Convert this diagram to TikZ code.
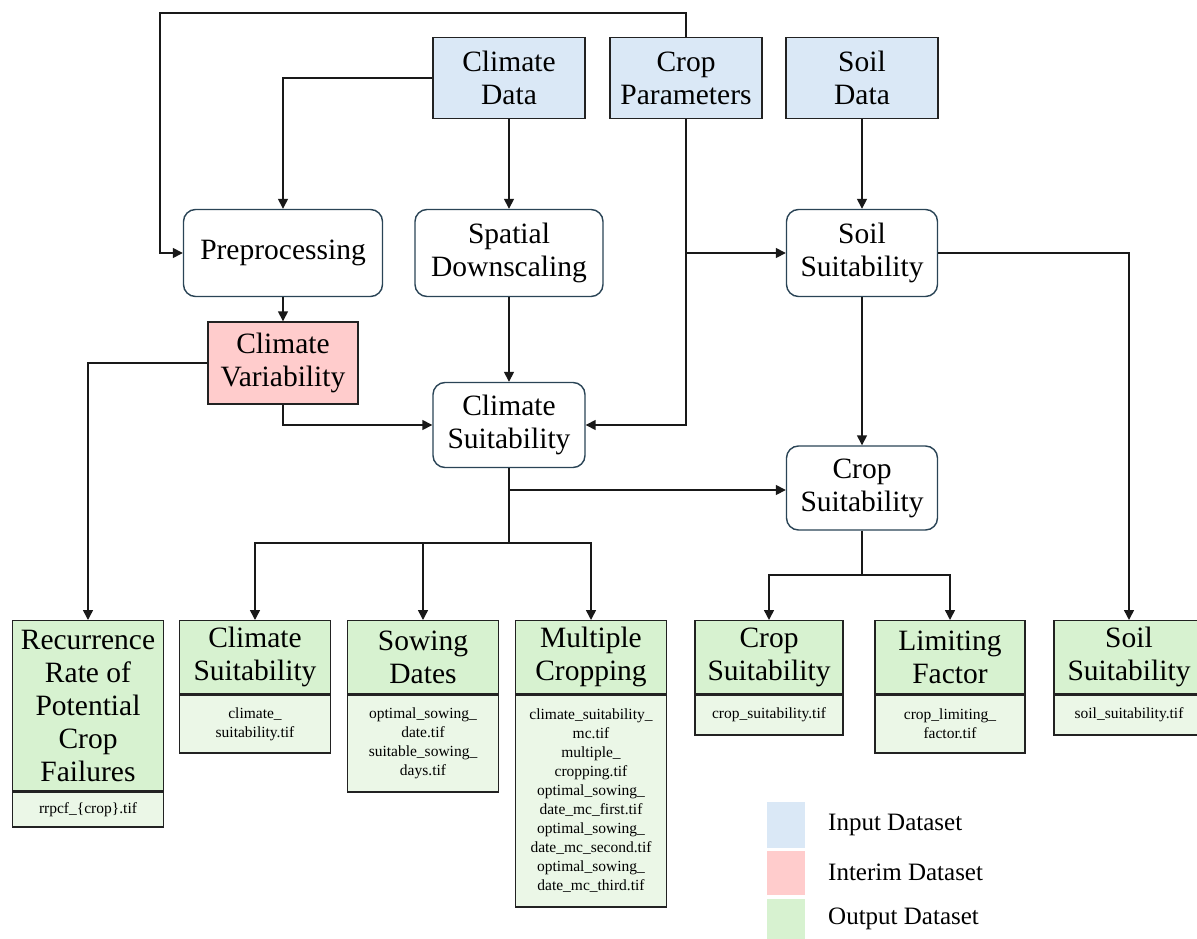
\documentclass[tikz,border=0pt]{standalone}
\usepackage{fontspec}
\setmainfont{LiberationSerif}[Extension=.ttf,UprightFont=*-Regular,BoldFont=*-Bold,ItalicFont=*-Italic,BoldItalicFont=*-BoldItalic]
\usetikzlibrary{arrows.meta}
\definecolor{inblue}{HTML}{DAE8F6}
\definecolor{interred}{HTML}{FFCCCC}
\definecolor{outg}{HTML}{D7F2D0}
\definecolor{outgl}{HTML}{EBF7E7}
\definecolor{procb}{HTML}{2A4456}
\definecolor{boxb}{HTML}{222222}
\tikzset{
  big/.style={font=\fontsize{29.5}{33}\selectfont, align=center, inner sep=0pt},
  small/.style={font=\fontsize{15.5}{19}\selectfont, align=center, inner sep=0pt},
  inbox/.style={big, draw=boxb, line width=1.4pt, fill=inblue, minimum width=152, minimum height=81},
  proc/.style={big, draw=procb, line width=1.4pt, fill=white, rounded corners=12pt, minimum height=87},
  interim/.style={big, draw=boxb, line width=1.4pt, fill=interred, minimum width=150, minimum height=82},
  outh/.style={big, draw=boxb, line width=1.4pt, fill=outg, minimum width=151, anchor=north},
  outb/.style={small, draw=boxb, line width=1.4pt, fill=outgl, minimum width=151, anchor=north},
  conn/.style={draw=black!90, line width=1.5pt},
  arr/.style={conn, -{Triangle[length=10pt,width=10pt]}},
  leg/.style={font=\fontsize{25}{30}\selectfont, anchor=west, inner sep=0pt}
}
\begin{document}
\begin{tikzpicture}[x=1pt,y=-1pt]
\useasboundingbox (0,0) rectangle (1197,939);
\clip (0,0) rectangle (1197,939);
% input boxes
\node[inbox] (cd) at (509,78) {Climate\\Data};
\node[inbox] (cp) at (686,78) {Crop\\Parameters};
\node[inbox] (sd) at (862,78) {Soil\\Data};
% process boxes
\node[proc, minimum width=199] (pre) at (283,253) {Preprocessing};
\node[proc, minimum width=188] (sdn) at (509,253) {Spatial\\Downscaling};
\node[proc, minimum width=151] (ss) at (862,253) {Soil\\Suitability};
\node[interim] (cv) at (283,363) {Climate\\Variability};
\node[proc, minimum width=152, minimum height=85] (cs) at (509,425) {Climate\\Suitability};
\node[proc, minimum width=151, minimum height=84] (crs) at (862,488) {Crop\\Suitability};
% output boxes
\node[outh, minimum height=170] (o1h) at (88,620) {Recurrence\\Rate of\\Potential\\Crop\\Failures};
\node[outb, minimum height=35] (o1b) at (o1h.south) {rrpcf\_\{crop\}.tif};
\node[outh, minimum height=73] (o2h) at (255,620) {Climate\\Suitability};
\node[outb, minimum height=58] (o2b) at (o2h.south) {climate\_\\suitability.tif};
\node[outh, minimum height=73] (o3h) at (423,620) {Sowing\\Dates};
\node[outb, minimum height=97] (o3b) at (o3h.south) {optimal\_sowing\_\\date.tif\\suitable\_sowing\_\\days.tif};
\node[outh, minimum height=73] (o4h) at (591,620) {Multiple\\Cropping};
\node[outb, minimum height=212] (o4b) at (o4h.south) {climate\_suitability\_\\mc.tif\\multiple\_\\cropping.tif\\optimal\_sowing\_\\date\_mc\_first.tif\\optimal\_sowing\_\\date\_mc\_second.tif\\optimal\_sowing\_\\date\_mc\_third.tif};
\node[outh, minimum height=73, minimum width=148] (o5h) at (769,620) {Crop\\Suitability};
\node[outb, minimum height=40, minimum width=148] (o5b) at (o5h.south) {crop\_suitability.tif};
\node[outh, minimum height=73, minimum width=150] (o6h) at (950,620) {Limiting\\Factor};
\node[outb, minimum height=58, minimum width=150] (o6b) at (o6h.south) {crop\_limiting\_\\factor.tif};
\node[outh, minimum height=73, minimum width=150] (o7h) at (1129,620) {Soil\\Suitability};
\node[outb, minimum height=40, minimum width=150] (o7b) at (o7h.south) {soil\_suitability.tif};
% coordinates
\coordinate (topl) at (160,13);
\coordinate (cpj) at (686,253);
\coordinate (csj) at (509,490);
\coordinate (csb) at (509,543);
\coordinate (crb) at (862,575);
% connectors
\draw[arr] (cp.north) |- (topl) |- (pre.west);
\draw[arr] (cd.west) -| (pre.north);
\draw[arr] (cd.south) -- (sdn.north);
\draw[arr] (sd.south) -- (ss.north);
\draw[arr] (cp.south) |- (cs.east);
\draw[arr] (cpj) -- (ss.west);
\draw[arr] (pre.south) -- (cv.north);
\draw[arr] (sdn.south) -- (cs.north);
\draw[arr] (cv.south) |- (cs.west);
\draw[arr] (cv.west) -| (o1h.north);
\draw[arr] (ss.south) -- (crs.north);
\draw[arr] (ss.east) -| (o7h.north);
\draw[conn] (cs.south) -- (csb);
\draw[arr] (csj) -- (csj -| crs.west);
\draw[arr] (csb) -| (o2h.north);
\draw[arr] (csb) -| (o3h.north);
\draw[arr] (csb) -| (o4h.north);
\draw[conn] (crs.south) -- (crb);
\draw[arr] (crb) -| (o5h.north);
\draw[arr] (crb) -| (o6h.north);
% legend
\fill[inblue] (767,802) rectangle (805,848);
\fill[interred] (767,851) rectangle (805,895);
\fill[outg] (767,899) rectangle (805,939);
\node[leg] (l1) at (828,825) {Input Dataset};
\node[leg] (l2) at (828,872) {Interim Dataset};
\node[leg] (l3) at (828,919) {Output Dataset};
\end{tikzpicture}
\end{document}
